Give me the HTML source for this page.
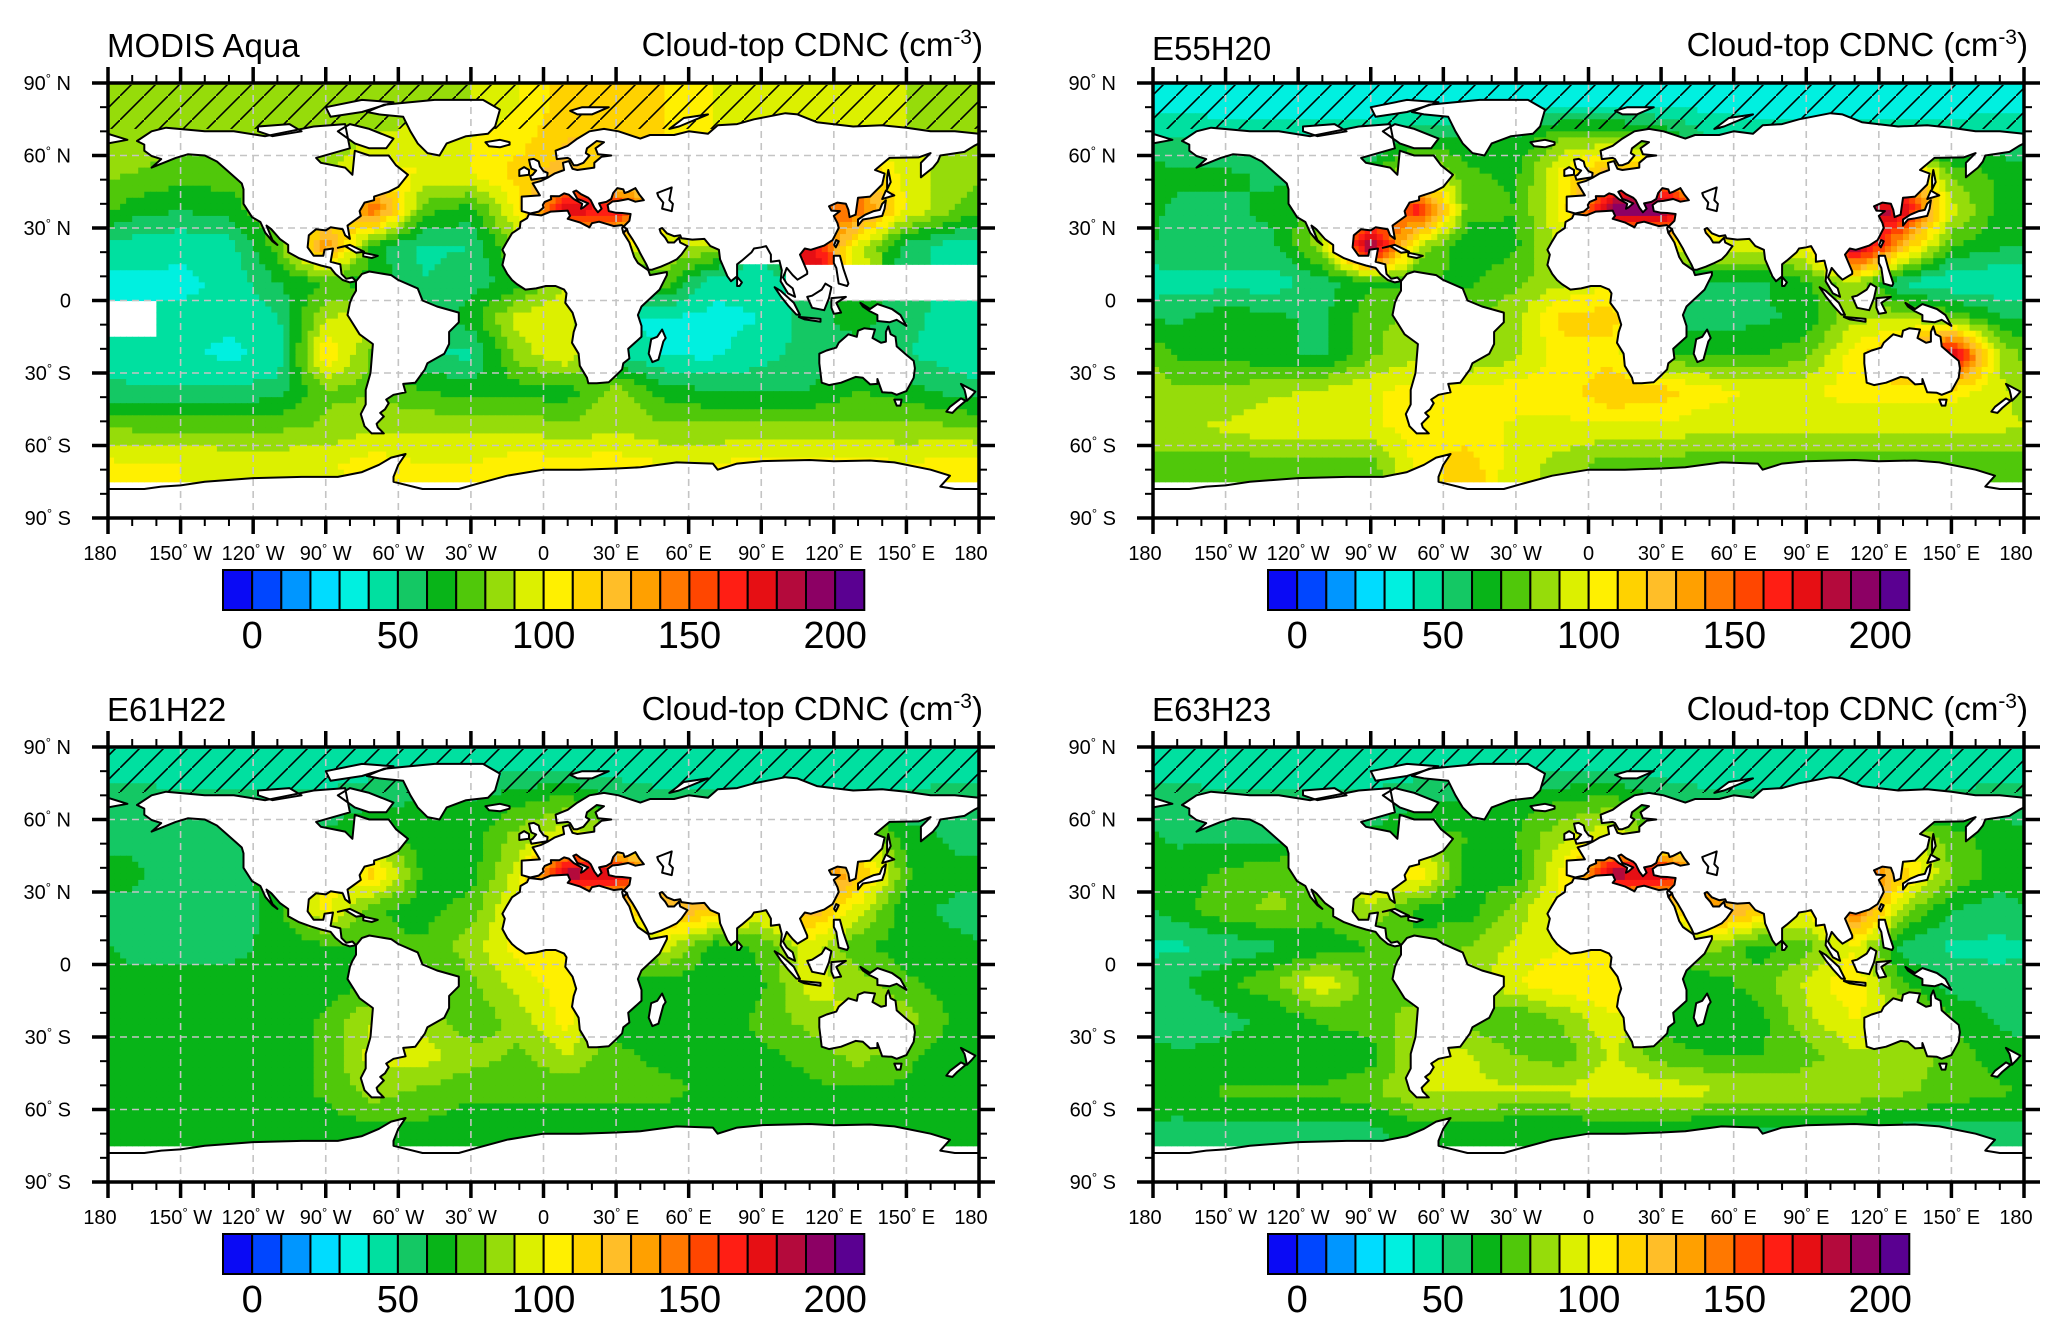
<!DOCTYPE html>
<html><head><meta charset="utf-8"><style>
html,body{margin:0;padding:0;background:#fff;}
svg{display:block;font-family:"Liberation Sans",sans-serif;}
</style></head><body>
<svg id="fig" width="2067" height="1337" viewBox="0 0 2067 1337" xmlns="http://www.w3.org/2000/svg">
<defs>
<pattern id="hatch" patternUnits="userSpaceOnUse" width="24" height="24">
<line x1="-2" y1="26" x2="26" y2="-2" stroke="#000" stroke-width="1.6"/>
</pattern>
</defs>
</svg>
<script>
// ---------- data ----------
const cbColors = ["#0a0af5","#0046ff","#0096ff","#00dcff","#00f0e0","#00e0a0","#14c864","#08b418","#50c80a","#96dc0a","#dcf000","#fff000","#ffd200","#ffbe28","#ffa000","#ff7800","#ff4600","#ff1e14","#e60f14","#b40a3c","#8c0064","#5a0091"];
const cbLabels = [0,50,100,150,200];
const lonTicks = [-180,-150,-120,-90,-60,-30,0,30,60,90,120,150,180];
const lonLabels = ["180","150° W","120° W","90° W","60° W","30° W","0","30° E","60° E","90° E","120° E","150° E","180"];
const latTicks = [90,60,30,0,-30,-60,-90];
const latLabels = ["90° N","60° N","30° N","0","30° S","60° S","90° S"];
const panelTitles = ["MODIS Aqua","E55H20","E61H22","E63H23"];
// grid: rows lat centers 82.5..-82.5 step 15, cols lon centers -170..170 step 20 ; -1 = missing
const modisVals = [
[80,80,80,80,80,80,85,90,100,115,120,110,100,95,90,90,90,85],
[85,85,85,85,85,90,95,100,105,120,120,110,100,95,95,95,90,85],
[80,75,75,80,85,105,100,100,115,125,100,100,100,100,110,125,95,85],
[65,60,65,80,100,150,75,65,105,180,170,120,100,100,150,150,100,80],
[45,42,45,75,140,65,48,50,85,100,100,90,90,-1,180,95,55,45],
[38,38,42,60,70,65,50,55,65,90,60,75,42,42,-1,-1,-1,-1],
[-1,42,42,48,90,100,55,65,95,100,40,38,38,40,55,65,55,42],
[42,42,38,42,110,75,50,48,85,100,50,38,38,45,55,55,50,45],
[52,52,52,55,78,78,70,65,65,65,85,65,60,60,60,70,65,55],
[78,78,78,78,82,88,88,88,88,82,88,82,82,82,82,82,82,82],
[100,100,98,98,98,105,100,100,105,105,105,100,100,105,105,105,100,105],
[-1,-1,-1,-1,-1,-1,-1,-1,-1,-1,-1,-1,-1,-1,-1,-1,-1,-1]];
const e55Vals = [
[35,35,35,35,35,35,35,35,35,35,35,35,35,35,35,35,35,35],
[50,45,45,45,45,60,60,60,80,80,70,50,45,45,45,45,45,50],
[62,62,58,58,68,100,72,68,105,130,130,100,100,100,110,130,78,68],
[58,58,62,78,120,170,75,70,105,200,200,130,100,100,190,180,95,65],
[58,58,58,88,200,88,62,68,95,100,100,95,100,100,200,125,70,62],
[45,45,45,55,68,68,68,78,88,100,60,58,58,68,88,48,40,40],
[58,68,62,58,78,82,78,88,115,115,58,55,58,62,88,88,78,62],
[68,68,62,58,78,88,78,88,105,105,72,68,68,78,105,130,190,88],
[82,82,88,92,98,105,105,105,105,120,115,105,98,98,105,105,105,92],
[88,92,98,98,98,105,105,98,98,98,98,92,92,92,92,92,92,92],
[75,75,75,75,75,105,115,95,85,75,75,75,75,75,75,75,75,75],
[-1,-1,-1,-1,-1,-1,-1,-1,-1,-1,-1,-1,-1,-1,-1,-1,-1,-1]];
const e61Vals = [
[45,45,45,45,45,45,45,45,45,45,45,45,45,45,45,45,45,45],
[55,52,52,52,52,58,60,60,68,75,58,52,52,52,52,52,52,55],
[58,52,52,58,62,75,65,65,85,100,85,75,75,75,75,95,65,58],
[62,55,55,65,100,115,68,65,95,190,180,115,100,100,150,125,72,62],
[58,52,52,65,105,72,65,75,105,100,100,130,120,100,130,95,62,58],
[58,58,58,62,68,72,72,85,105,110,65,95,65,72,95,72,65,62],
[62,62,62,62,65,68,68,78,95,105,68,65,65,68,95,85,72,65],
[65,62,62,62,72,90,85,72,85,105,65,65,65,72,85,95,85,68],
[65,65,65,65,72,95,95,85,78,90,72,68,68,68,72,85,72,65],
[65,65,65,65,72,85,78,72,72,72,72,72,68,68,68,68,68,65],
[65,65,65,65,65,68,68,65,65,65,65,65,65,65,65,65,65,65],
[-1,-1,-1,-1,-1,-1,-1,-1,-1,-1,-1,-1,-1,-1,-1,-1,-1,-1]];
const e63Vals = [
[45,45,45,45,45,45,45,45,45,45,45,45,45,45,45,45,45,45],
[55,52,52,52,52,58,62,65,70,75,58,52,52,52,52,52,52,55],
[58,58,58,62,62,75,70,70,90,100,80,75,75,75,75,95,75,65],
[65,72,78,80,100,110,65,65,105,190,180,120,100,100,170,115,80,65],
[65,78,82,75,90,65,65,85,105,100,100,140,120,100,150,85,60,55],
[48,52,58,62,70,75,80,92,100,100,65,85,65,75,100,55,48,48],
[58,68,78,100,75,75,85,100,110,110,65,65,75,92,110,70,55,52],
[52,58,62,72,75,85,75,70,82,100,65,62,65,88,100,92,70,58],
[62,62,62,62,65,92,92,80,75,92,75,70,70,75,88,88,75,65],
[65,72,72,72,78,92,92,92,92,98,98,92,88,88,88,82,75,72],
[58,58,58,58,58,65,65,62,62,62,62,62,58,58,58,58,58,58],
[-1,-1,-1,-1,-1,-1,-1,-1,-1,-1,-1,-1,-1,-1,-1,-1,-1,-1]];
const panelData = [modisVals, e55Vals, e61Vals, e63Vals];

// ---------- land (lon,lat) ----------
const LAND = {
"north-america":[[-168,66],[-162,70],[-156,71.5],[-140,70],[-128,70],[-115,68],[-95,72],[-82,73],[-80,63],[-94,59],[-92,57],[-82,55],[-79,52],[-78,62],[-72,60],[-64,60],[-61,56],[-56,52],[-60,47],[-64,45],[-70,43],[-70,41.5],[-74,40.5],[-76,37],[-75.5,35],[-81,31],[-80,25.5],[-82,27],[-83,29.5],[-88,30.3],[-90,29],[-94,29.5],[-97,27],[-97.5,22],[-95,18.5],[-91,18.5],[-90.5,21],[-87,21.5],[-88,16],[-84,15],[-83.5,11],[-81.5,9],[-79,9.5],[-77.5,8],[-80,7.5],[-83,8.5],[-86,11],[-88,13.5],[-92,14.5],[-96,15.7],[-101,17.5],[-105.5,20],[-105.5,23],[-109,25.5],[-112.5,29.5],[-114.5,31],[-112,25],[-110,23],[-112,24.5],[-115,28],[-117,32.5],[-120.5,34.5],[-124,40],[-124,46],[-124.7,48.4],[-127,50.5],[-131,54],[-135,57.5],[-140,60],[-147,60.5],[-152,59],[-157,57],[-162,55],[-158,58.5],[-162,59.8],[-165,62],[-165,64.5]],
"greenland":[[-73,78],[-66,81],[-45,83],[-25,83],[-18,79],[-20,72],[-23,69],[-32,68],[-40,65],[-43,60],[-48,61],[-52,65],[-55,70],[-58,76],[-68,77]],
"baffin":[[-80,73],[-72,71],[-62,67],[-65,63],[-72,63],[-78,65],[-85,70]],
"ellesmere":[[-90,80],[-75,83],[-62,82],[-75,78],[-88,76]],
"victoria":[[-118,72],[-105,73],[-100,70],[-112,68],[-118,70]],
"south-america":[[-77.5,8],[-75,11],[-72,12],[-63,10.5],[-60,8.5],[-52,5],[-50,0],[-44,-2.5],[-35,-5],[-35,-9],[-39,-13],[-39,-18],[-41,-22],[-48,-26],[-49,-28.5],[-53,-34],[-58,-34.5],[-57,-38],[-62,-39],[-65,-41],[-64,-42.5],[-65.5,-45],[-67.5,-46.5],[-66,-48],[-69,-51],[-68.5,-52.5],[-66,-55],[-71,-55],[-74,-52],[-75.5,-47],[-73.5,-43],[-73.5,-37],[-71.5,-30],[-70.5,-18],[-76,-14],[-81,-6],[-80,-1],[-79,1.5],[-77.5,4]],
"eurasia":[[-9,37],[-9,43],[-1.5,43.5],[-4.5,48.5],[-1,49.5],[2,51],[4.5,52.5],[8.5,54],[8,57],[10.5,57.7],[12,54.5],[14,54],[21,55],[21,57],[24,59.5],[28,60],[22.5,60.5],[21.5,63],[25,65.5],[22,66],[18,63],[17.5,61],[19,60],[16.5,57],[14,56],[12.5,56],[11,58.5],[10,59],[5.5,58.5],[5,62],[10,64],[14,67],[19,70],[25,71],[31,70],[40,67],[44,68.5],[54,68.5],[60,70],[68,69],[72,72.5],[80,73],[87,75],[100,77.5],[105,77],[113,73.8],[128,72],[140,72.5],[150,71.5],[160,70],[170,70],[180,69],[180,65],[178,64],[174,61.5],[164,60],[163,57.5],[161,55],[156,51],[156,57],[160,61],[155,59.2],[143,59],[137,54],[141,52.5],[140,48],[135,43],[130,42.5],[129,35.5],[126.5,34.5],[126,37.5],[125,40],[121.5,40.5],[118,39],[119,37.2],[122.5,37],[120,35],[121.5,32],[122,30],[119.5,25],[116,22.7],[110.5,21],[108,21.5],[106,19],[109,12],[109,11],[105,8.6],[103,10.5],[100.5,13.5],[100,12],[99,9.5],[100.5,7],[103,5],[104,1.5],[101,3],[98,8],[98.5,12.5],[97.5,16.5],[94,16],[94,19],[92,22.5],[90,22],[87,21.5],[86,20],[82,16.5],[80,15],[80,10],[77.5,8],[76,10],[73,17],[72.5,21],[69,22.5],[66.5,25.5],[61.5,25.2],[57,25.8],[56.5,27],[54,26.6],[51,27.8],[49,30],[48,29.5],[48.5,28],[50.3,26],[51.5,24],[54,24],[56,26],[56.5,24],[59.5,22.5],[57,19],[55,17],[52,15.5],[48.5,14],[45,12.8],[43.5,12.7],[42.5,15],[40,19.5],[39,21.5],[37,25],[35,28],[34.5,29.5],[33,28],[32.5,30],[35.5,33],[36,35.8],[32.5,36.2],[30,36.3],[27,37],[26.5,39.5],[28.5,41],[29,41],[31,41.2],[35,42],[38,40.9],[41.5,41.5],[39.5,44],[38,46.5],[35,45],[33.5,44.5],[33,46],[30.5,46.5],[28.8,44.5],[28,42],[26,40.8],[23,40.2],[24,38],[22.5,36.5],[21,38.5],[19.5,41.5],[18.5,42.5],[15.5,44],[13.5,45.5],[12.3,45],[14,42],[16,41.3],[18.5,40.2],[16.5,38.5],[15.5,38],[16,40],[12.5,42],[10.5,43.8],[8.5,44.3],[6.5,43.1],[3,43.2],[3.2,41.9],[0.5,40.8],[-0.3,39.5],[0,38.5],[-2,36.8],[-5.5,36]],
"chukotka":[[-180,69],[-172,66.5],[-180,65]],
"africa":[[-6,35.8],[-1,35.2],[3,36.8],[10,37.2],[11,35],[10,33.8],[15,32.3],[19,30.3],[20,32],[23,32.6],[29,30.8],[32.3,31.2],[34.5,29.5],[33,28],[35.5,24],[37.5,18],[39,15.5],[43.3,12.5],[44,10.5],[51,11.8],[51,10.5],[48,4.5],[40.5,-2.5],[39,-6],[40.5,-10.5],[40.5,-15],[35,-20],[35.5,-24],[33,-26],[32.5,-28.5],[30,-31],[27,-33.8],[22,-34.2],[18.5,-34.2],[18,-32],[15,-27],[14.5,-22],[11.8,-17.5],[12.5,-13],[13.5,-10],[12,-5],[9,-1],[9.5,3],[8.5,4.5],[5,6],[1,6],[-3,5],[-7.5,4.5],[-11,6.8],[-13,8.5],[-15,11],[-17,14.7],[-16,19],[-17,21],[-15,24.5],[-13,27.8],[-9.8,30],[-9.5,32.5],[-6.8,34]],
"madagascar":[[49,-12],[50.5,-15.5],[49.5,-17],[47.5,-24.5],[45,-25.5],[43.5,-22],[44.5,-16],[47,-15]],
"australia":[[114,-22],[114,-26],[115,-34],[118,-35],[123,-34],[129,-31.6],[132,-32],[135,-34.7],[138,-34.5],[138,-32.5],[140,-38],[144,-38.2],[146,-39],[150,-37.5],[153,-32],[153.5,-28],[153,-25],[150,-22.5],[146,-19],[145.5,-15],[143.5,-14],[142.5,-10.7],[141.5,-13],[141.5,-17],[139.5,-17.5],[136,-15.5],[137,-12],[132.5,-11.5],[130,-12.5],[129.5,-15],[126,-14],[122,-17.5],[121,-19.5],[117,-20.7]],
"antarctica":[[-180,-90],[-180,-78],[-165,-78],[-158,-77],[-150,-76.5],[-140,-75],[-120,-73.5],[-100,-73],[-85,-73],[-75,-71],[-68,-68],[-63,-65],[-57,-63.5],[-60,-68],[-62,-73],[-62,-75],[-50,-78],[-35,-78],[-28,-76],[-15,-72.5],[0,-70],[15,-70],[30,-69.5],[40,-69],[55,-67],[70,-67.5],[72,-70],[80,-67.5],[90,-66.5],[110,-66],[120,-66.5],[135,-66.2],[145,-67],[160,-70],[168,-72.5],[164,-77],[170,-78],[180,-78],[180,-90]],
"japan":[[130,31],[132,33.5],[135,34],[140,35],[141,38],[141.5,41.5],[140,40],[139,37.5],[136.5,37],[133,35.5],[130,33.5]],
"hokkaido":[[140,42],[145,43.5],[144,44],[141.5,45.5]],
"great-britain":[[-5,50],[1.5,51],[1.7,52.8],[0,53.5],[-1.5,55.5],[-2,57.5],[-4,58.6],[-6,58.3],[-5.5,56],[-5,54.6],[-3,53.8],[-4.5,52],[-5.5,51.5]],
"ireland":[[-10,51.5],[-6,52],[-6,54],[-8,55.2],[-10,54]],
"iceland":[[-24,65.5],[-18,66.5],[-14,65.5],[-14,64.5],[-18,63.4],[-22.5,63.8]],
"borneo":[[109,1.5],[111,-3],[116,-4],[118,1],[119,5.5],[116.5,7],[115,4.5],[111,2]],
"sumatra":[[95.5,5.5],[98,4],[103.5,-1],[106,-6],[104.5,-5.8],[101,-2],[98,1.8]],
"java":[[105.5,-6.8],[114.5,-7.6],[114.5,-8.8],[108,-7.8]],
"new-guinea":[[131,-1],[135,-3.5],[138,-1.5],[144,-3.5],[147.5,-6],[150,-10.5],[146,-8],[143,-9],[138,-8.5],[138,-6],[135,-4.5],[132,-2.5]],
"sulawesi":[[119,1],[125,1.5],[121,-1],[123,-5],[120,-5.5],[119,-3]],
"philippines":[[120,18.5],[122.5,18.5],[124,13],[126,7],[125.5,6],[122,7],[121,13.5],[120,15.5]],
"nz-north":[[172.5,-34.5],[178.5,-37.7],[177,-39.5],[175,-41.5],[174.5,-39],[174,-37]],
"nz-south":[[172.5,-40.5],[174.5,-41.5],[171,-44.5],[169,-46.5],[166.5,-46],[168,-44]],
"sri-lanka":[[80,9.8],[82,7.5],[81,6],[80,6]],
"taiwan":[[121,25],[122,24.5],[120.8,22],[120.1,23]],
"cuba":[[-85,21.8],[-80,23],[-74.2,20.2],[-77.5,19.8],[-82,22.5]],
"hispaniola":[[-74.5,19.8],[-68.5,18.5],[-71,17.6],[-74.5,18.3]],
"novaya-zemlya":[[52,71],[58,75.5],[68,77],[56,72]],
"svalbard":[[11,78.5],[16,80],[27,80],[20,77],[14,77]],
"tasmania":[[145,-41],[148,-41],[147.5,-43.5],[146,-43.5]],
"sakhalin":[[142,46],[143.5,49],[142.5,54],[142,51]]
};
const CASPIAN = [[47,44.5],[53,46.8],[52,41.5],[53.5,40],[53,37],[49,38],[49.5,40.5],[47.5,43]];

// ---------- layout ----------
const SVGNS = "http://www.w3.org/2000/svg";
const fig = document.getElementById('fig');
const MAPW = 871, MAPH = 435;
const panels = [{x:108,y:83},{x:1153,y:83},{x:108,y:747},{x:1153,y:747}];
function mk(tag, attrs, parent){ const e=document.createElementNS(SVGNS,tag); for(const k in attrs) e.setAttribute(k,attrs[k]); (parent||fig).appendChild(e); return e; }
function colorIndex(v){ let i=Math.floor(v/10)+1; return Math.max(0,Math.min(cbColors.length-1,i)); }

panels.forEach((p,pi)=>{
  const X=lon=>p.x+(lon+180)/360*MAPW;
  const Y=lat=>p.y+(90-lat)/180*MAPH;
  const vals=panelData[pi];
  const g=mk('g',{});
  
  
  const clipId='clip'+pi;
  const cp=mk('clipPath',{id:clipId},g); mk('rect',{x:p.x,y:p.y,width:MAPW,height:MAPH},cp);
  const field=mk('g',{'clip-path':'url(#'+clipId+')'},g);
  
  
  const nr=vals.length, nc=vals[0].length;
  const get=(r,c)=>vals[Math.max(0,Math.min(nr-1,r))][((c%nc)+nc)%nc];
  const step=2.5;
  for(let lat=90-step/2; lat>-90; lat-=step){
    for(let lon=-180+step/2; lon<180; lon+=step){
      const fx=(lon+170)/20, fy=(82.5-lat)/15;
      const near=get(Math.round(fy),Math.round(fx));
      if(near<0) continue;
      const c0=Math.floor(fx), r0=Math.floor(fy), tx=fx-c0, ty=fy-r0;
      const q=(r,c)=>{const v=get(r,c); return v<0?near:v;};
      const v=(1-ty)*((1-tx)*q(r0,c0)+tx*q(r0,c0+1))+ty*((1-tx)*q(r0+1,c0)+tx*q(r0+1,c0+1));
      const x0=X(lon-step/2), y0=Y(lat+step/2);
      const cell=mk('rect',{x:x0.toFixed(2),y:y0.toFixed(2),width:(X(lon+step/2)-x0+0.6).toFixed(2),height:(Y(lat-step/2)-y0+0.6).toFixed(2),fill:cbColors[colorIndex(v)]},field);
      
      
    }
  }
  const h=mk('rect',{x:p.x,y:p.y+2,width:MAPW,height:Y(71)-p.y-2,fill:'url(#hatch)'},g);
  
  
  const land=mk('g',{'clip-path':'url(#'+clipId+')'},g);
  
  
  const pts=arr=>arr.map(a=>X(a[0]).toFixed(1)+','+Y(a[1]).toFixed(1)).join(' ');
  for(const k in LAND){ const pl=mk('polygon',{points:pts(LAND[k]),fill:'#fff',stroke:'none'},land);
    
     }
  const grid=mk('g',{stroke:'#c4c4c4','stroke-width':1.6,'stroke-dasharray':'7 5'},g);
  
  
  for(let lon=-150; lon<180; lon+=30) mk('line',{x1:X(lon),y1:p.y,x2:X(lon),y2:p.y+MAPH},grid);
  for(let lat=-60; lat<=60; lat+=30) mk('line',{x1:p.x,y1:Y(lat),x2:p.x+MAPW,y2:Y(lat)},grid);
  const coast=mk('g',{'clip-path':'url(#'+clipId+')',fill:'none',stroke:'#000','stroke-width':2,'stroke-linejoin':'round'},g);
  
  
  for(const k in LAND){ if(k==='antarctica'){ mk('polyline',{points:pts(LAND[k].slice(1,-1))},coast);} else mk('polygon',{points:pts(LAND[k])},coast); }
  mk('polygon',{points:pts(CASPIAN),fill:'#fff'},coast);
  const fr=mk('rect',{x:p.x,y:p.y,width:MAPW,height:MAPH,fill:'none',stroke:'#000','stroke-width':3.5},g);
  
  
  const tk=mk('g',{stroke:'#000'},g);
  
  
  for(let lon=-180; lon<=180; lon+=10){ const maj=lon%30===0, L=maj?16:8, w=maj?3.5:2;
    mk('line',{x1:X(lon),y1:p.y,x2:X(lon),y2:p.y-L,'stroke-width':w},tk);
    mk('line',{x1:X(lon),y1:p.y+MAPH,x2:X(lon),y2:p.y+MAPH+L,'stroke-width':w},tk); }
  for(let lat=-90; lat<=90; lat+=10){ const maj=lat%30===0, L=maj?16:8, w=maj?3.5:2;
    mk('line',{x1:p.x,y1:Y(lat),x2:p.x-L,y2:Y(lat),'stroke-width':w},tk);
    mk('line',{x1:p.x+MAPW,y1:Y(lat),x2:p.x+MAPW+L,y2:Y(lat),'stroke-width':w},tk); }
  latTicks.forEach((lat,i)=>{
    const t=mk('text',{x:p.x-37,y:Y(lat)+7,'text-anchor':'end','font-size':20,fill:'#000'},g);
    
    
    const s=latLabels[i]; const d=s.indexOf('°');
    if(d<0){t.textContent=s;} else { t.appendChild(document.createTextNode(s.slice(0,d)));
      const sup=mk('tspan',{'font-size':13,dy:-7},t); sup.textContent='°';
      const rest=mk('tspan',{dy:7},t); rest.textContent=s.slice(d+1); }
  });
  lonTicks.forEach((lon,i)=>{
    const t=mk('text',{x:X(lon)+(i===0?-8:(i===lonTicks.length-1?-8:0)),y:p.y+MAPH+42,'text-anchor':'middle','font-size':20,fill:'#000'},g);
    
    
    const s=lonLabels[i]; const d=s.indexOf('°');
    if(d<0){t.textContent=s;} else { t.appendChild(document.createTextNode(s.slice(0,d)));
      const sup=mk('tspan',{'font-size':13,dy:-7},t); sup.textContent='°';
      const rest=mk('tspan',{dy:7},t); rest.textContent=s.slice(d+1); }
  });
  const tt=mk('text',{x:p.x-1,y:p.y-26+(pi===1?3:0),'font-size':33,fill:'#000'},g);
  tt.textContent=panelTitles[pi];
  
  
  const rt=mk('text',{x:p.x+MAPW+4,y:p.y-27,'text-anchor':'end','font-size':33,fill:'#000'},g);
  
  
  rt.appendChild(document.createTextNode('Cloud-top CDNC (cm'));
  const sp=mk('tspan',{'font-size':21,dy:-12},rt); sp.textContent='-3';
  const cl=mk('tspan',{dy:12},rt); cl.textContent=')';
  const cbx=p.x+115, cby=p.y+487, bw=29.15, bh=40;
  const cb=mk('g',{},g);
  
  
  cbColors.forEach((c,i)=>{ const r=mk('rect',{x:cbx+i*bw,y:cby,width:bw,height:bh,fill:c,stroke:'#000','stroke-width':2},cb);
    
     });
  cbLabels.forEach(v=>{ const t=mk('text',{x:cbx+(v/10+1)*bw,y:cby+78,'text-anchor':'middle','font-size':38,fill:'#000'},cb);
    t.textContent=v;
    
     });
});
</script>
</body></html>
